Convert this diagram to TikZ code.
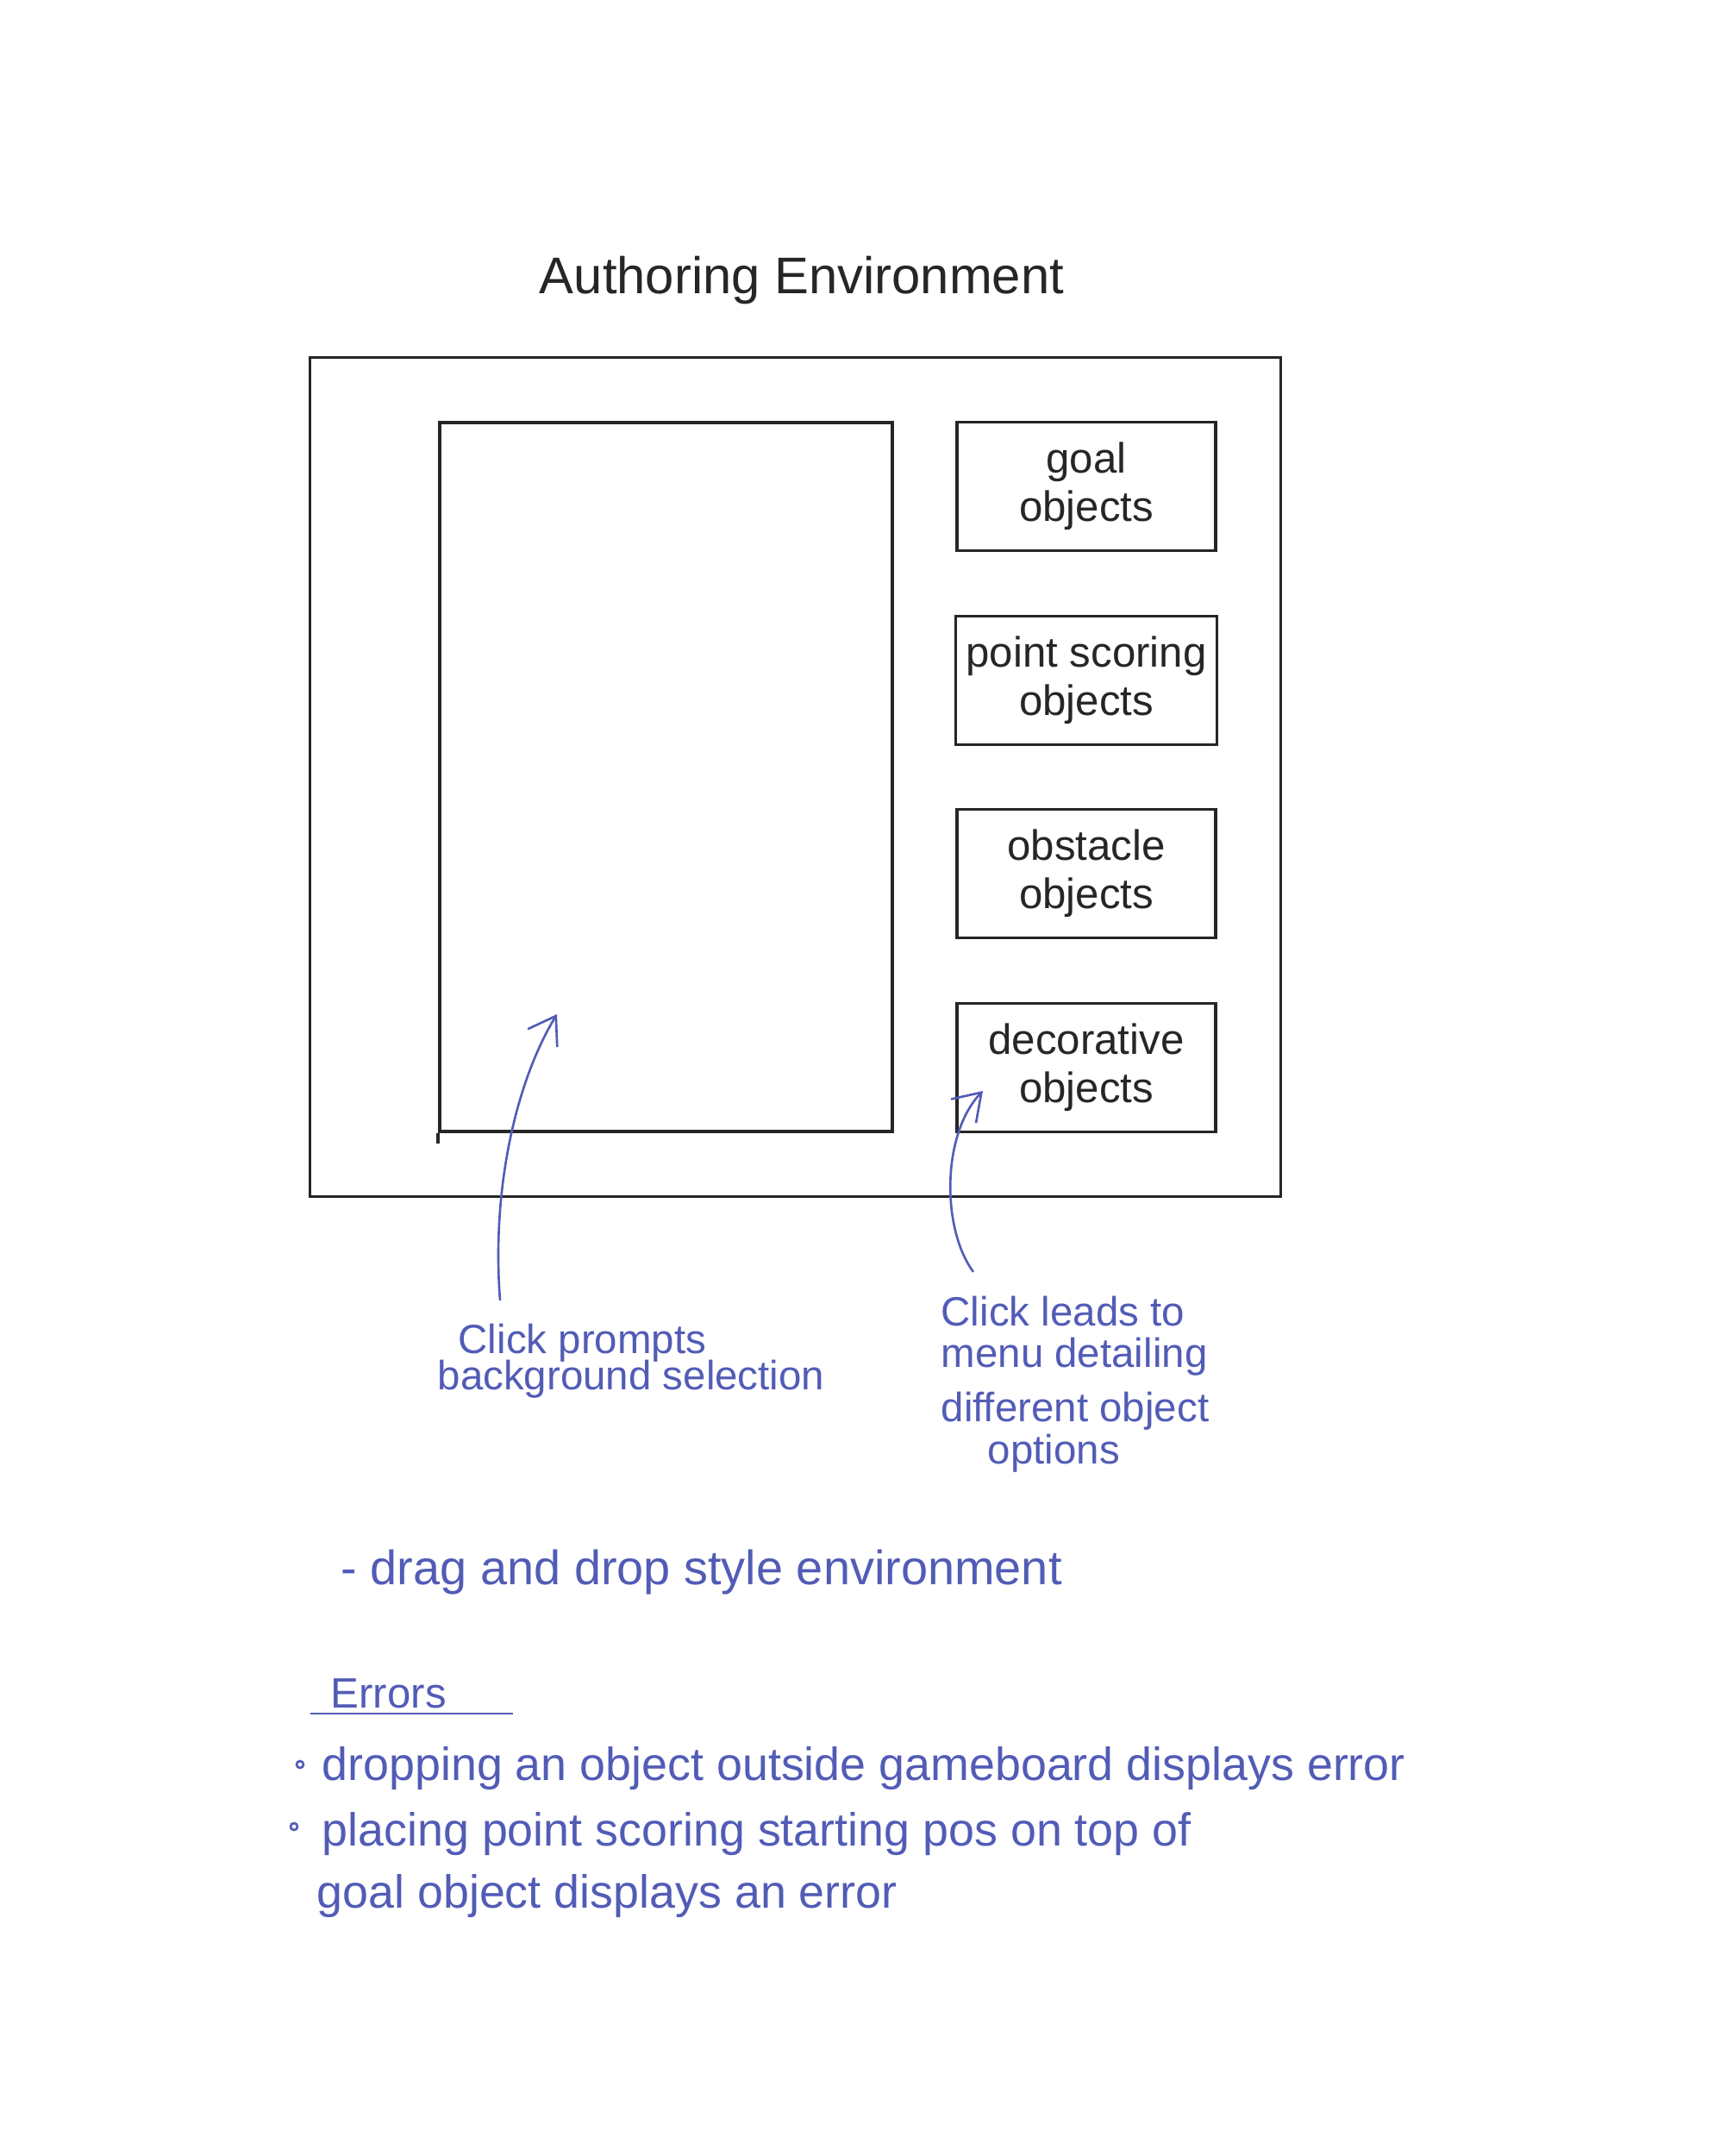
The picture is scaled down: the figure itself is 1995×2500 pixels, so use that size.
\documentclass[tikz,border=0pt]{standalone}
\usepackage{fontspec}
\setmainfont{Liberation Sans}
\usetikzlibrary{arrows.meta, positioning}
\definecolor{inkblue}{RGB}{82,92,182}
\definecolor{inkblack}{RGB}{38,38,38}

\begin{document}
\begin{tikzpicture}[
  x=0.01cm, y=-0.01cm,
  frame/.style={draw=inkblack, line width=1pt, inner sep=0pt},
  objbox/.style={draw=inkblack, line width=1pt, minimum width=3cm, minimum height=1.49cm,
    align=center, text=inkblack, font=\fontsize{14}{16}\selectfont},
  note/.style={text=inkblue, inner sep=0pt, anchor=base west, font=\fontsize{13.5}{15}\selectfont},
  errline/.style={text=inkblue, inner sep=0pt, anchor=base west, font=\fontsize{15.3}{18}\selectfont},
  pen/.style={draw=inkblue, line width=0.75pt},
  bullet/.style={circle, draw=inkblue, line width=0.75pt, inner sep=0pt, minimum size=0.08cm},
  >={Straight Barb[length=3mm, width=4mm]}
]
\useasboundingbox (0,0) rectangle (1995,2500);

% Title
\node[text=inkblack, inner sep=0pt, anchor=base, font=\fontsize{17}{20}\selectfont] (title) at (930,340) {Authoring Environment};

% Window and gameboard
\node[frame, minimum width=11.25cm, minimum height=9.72cm] (window) at (922.5,901) {};
\node[frame, minimum width=5.25cm, minimum height=8.22cm] (board) at (772.5,901) {};
\draw[frame] (board.south west) -- ++(0,12);

% Object menus
\node[objbox] (goal) at (1260,564) {goal\\objects};
\node[objbox] (points) at (1260,789) {point scoring\\objects};
\node[objbox] (obstacle) at (1260,1013) {obstacle\\objects};
\node[objbox] (deco) at (1260,1238) {decorative\\objects};

% Notes
\node[note] (bg1) at (531,1569) {Click prompts};
\node[note] (bg2) at (507,1611) {background selection};

\node[note] (menu1) at (1091,1537) {Click leads to};
\node[note] (menu2) at (1091,1585) {menu detailing};
\node[note] (menu3) at (1091,1648) {different object};
\node[note] (menu4) at (1145,1697) {options};

\coordinate (bgtip) at (646,1176);
\coordinate (decotip) at (1140,1265);
\draw[pen, ->] ([xshift=0.49cm, yshift=0.26cm]bg1.north west) .. controls (570,1380) and (598,1255) .. (bgtip);
\draw[pen, ->] ([xshift=0.38cm, yshift=0.27cm]menu1.north west) .. controls (1092,1425) and (1092,1315) .. (decotip);

% Drag and drop remark
\node[errline, font=\fontsize{15.9}{18}\selectfont] (drag) at (395,1837) {- drag and drop style environment};

% Errors
\node[errline, font=\fontsize{14}{16}\selectfont] (errors) at (383,1980) {Errors};
\draw[pen] ([xshift=-0.23cm, yshift=-0.07cm]errors.base west) -- ([xshift=0.77cm, yshift=-0.07cm]errors.base east);

\node[bullet] (dot1) at (348,2046) {};
\node[errline] (err1) at (373,2064) {dropping an object outside gameboard displays error};
\node[bullet] (dot2) at (341,2118) {};
\node[errline] (err2) at (373,2140) {placing point scoring starting pos on top of};
\node[errline] (err3) at (367,2212) {goal object displays an error};

\end{tikzpicture}
\end{document}
